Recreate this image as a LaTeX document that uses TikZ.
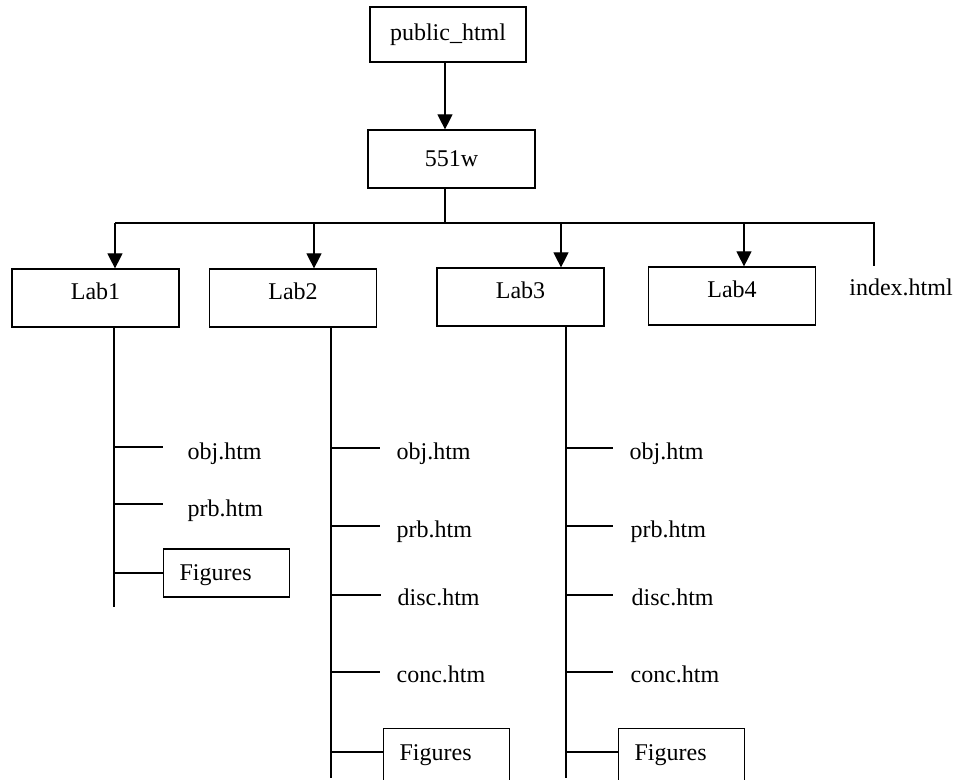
\documentclass[tikz,border=0pt]{standalone}
\usepackage{fontspec}
\setmainfont{Liberation Serif}
\usepackage{tikz}
\usetikzlibrary{arrows.meta,positioning}
\tikzset{folder/.style={draw,inner sep=0pt,minimum width=83.5pt,minimum height=29pt}}
\tikzstyle{lab}=[folder, text height=8pt, text depth=6pt]
\tikzstyle{file}=[inner sep=0pt, text height=8pt, text depth=2.6pt]
\tikzstyle{figs}=[draw, inner xsep=8pt, inner ysep=0pt, text width=47pt, align=left, minimum height=24pt, text height=10pt, text depth=2.6pt]
\tikzstyle{figcut}=[figs, minimum height=30pt, text depth=8.6pt]

\begin{document}
\begin{tikzpicture}[x=0.5pt,y=-0.5pt,line width=0.6pt,>={Triangle[length=7.5pt,width=7.5pt]},font=\fontsize{12}{14}\selectfont]
    \useasboundingbox (0,0) rectangle (958,780);
    \node [folder,minimum width=78pt,minimum height=27.5pt] (pub) at (448,34.5) {public\_html};
    \node [folder] (www) at (451.5,159) {551w};
    \coordinate (j0) at (445,223);
    \coordinate (j1) at (115,223);
    \coordinate (j2) at (314,223);
    \coordinate (j3) at (561,223);
    \coordinate (j4) at (744,223);
    \coordinate (j5) at (874,223);
    \node [lab] (lab1) at (95.5,298) {Lab1};
    \node [lab] (lab2) at (293,298) {Lab2};
    \node [lab] (lab3) at (520.5,297) {Lab3};
    \node [lab] (lab4) at (732,296) {Lab4};
    \node [file] (idx) at (901,290) {index.html};
    \coordinate (i0) at (874,266);
    \draw[->] (j0 |- pub.south) -- (j0 |- www.north);
    \draw (j0 |- www.south) -- (j0);
    \draw (j1) -- (j5) -- (i0);
    \draw[->] (j1) -- (j1 |- lab1.north);
    \draw[->] (j2) -- (j2 |- lab2.north);
    \draw[->] (j3) -- (j3 |- lab3.north);
    \draw[->] (j4) -- (j4 |- lab4.north);
    % Lab1
    \coordinate (e1) at (114,607);
    \coordinate (b11) at (163,447);
    \coordinate (b12) at (163,504);
    \node [figs,anchor=west] (fig1) at (163,573) {Figures};
    \node [file,right=12pt of b11,yshift=-3.5pt] (obj1) {obj.htm};
    \node [file,right=12pt of b12,yshift=-3.5pt] (prb1) {prb.htm};
    \draw (e1 |- lab1.south) -- (e1);
    \draw (e1 |- b11) -- (b11);
    \draw (e1 |- b12) -- (b12);
    \draw (e1 |- fig1.west) -- (fig1.west);
    % Lab2
    \coordinate (e2) at (331,778);
    \coordinate (b21) at (380,448);
    \coordinate (b22) at (380,526);
    \coordinate (b23) at (381,595);
    \coordinate (b24) at (380,672);
    \coordinate (b25) at (383,752);
    \node [figcut,anchor=north west] (fig2) at (383,728) {Figures};
    \node [file,right=8pt of b21,yshift=-3pt] (obj2) {obj.htm};
    \node [file,right=8pt of b22,yshift=-3pt] (prb2) {prb.htm};
    \node [file,right=8pt of b23,yshift=-2.5pt] (disc2) {disc.htm};
    \node [file,right=8pt of b24,yshift=-2.5pt] (conc2) {conc.htm};
    \draw (e2 |- lab2.south) -- (e2);
    \draw (e2 |- b21) -- (b21);
    \draw (e2 |- b22) -- (b22);
    \draw (e2 |- b23) -- (b23);
    \draw (e2 |- b24) -- (b24);
    \draw (e2 |- b25) -- (b25);
    % Lab3
    \coordinate (e3) at (566,778);
    \coordinate (b31) at (613,448);
    \coordinate (b32) at (613,526);
    \coordinate (b33) at (613,595);
    \coordinate (b34) at (613,672);
    \coordinate (b35) at (618,752);
    \node [figcut,anchor=north west] (fig3) at (618,728) {Figures};
    \node [file,right=8pt of b31,yshift=-3pt] (obj3) {obj.htm};
    \node [file,right=8.5pt of b32,yshift=-3pt] (prb3) {prb.htm};
    \node [file,right=9pt of b33,yshift=-2.5pt] (disc3) {disc.htm};
    \node [file,right=8.5pt of b34,yshift=-2.5pt] (conc3) {conc.htm};
    \draw (e3 |- lab3.south) -- (e3);
    \draw (e3 |- b31) -- (b31);
    \draw (e3 |- b32) -- (b32);
    \draw (e3 |- b33) -- (b33);
    \draw (e3 |- b34) -- (b34);
    \draw (e3 |- b35) -- (b35);
\end{tikzpicture}
\end{document}
